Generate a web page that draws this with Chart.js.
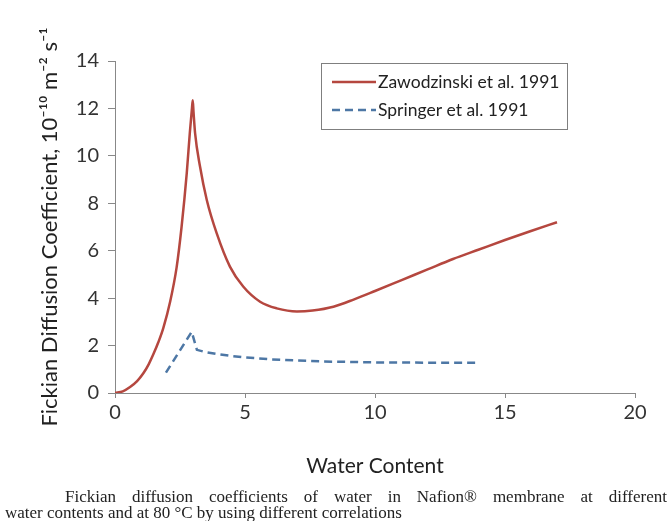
<!DOCTYPE html>
<html>
<head>
<meta charset="utf-8">
<script src="https://cdn.jsdelivr.net/npm/chart.js@4.4.1/dist/chart.umd.min.js"></script>
<style>
  body { margin: 0; background: #fff; }
  #wrap { position: relative; width: 671px; height: 521px; }
  #chart { position: absolute; left: 0; top: 0; }
  .caption {
    position: absolute; left: 5px; width: 662px;
    font-family: "Liberation Serif", "DejaVu Serif", serif;
    font-size: 17px; line-height: 16px; color: #222;
    white-space: nowrap;
  }
  .caption.first { top: 489px; padding-left: 60px; width: 602px; text-align: justify; text-align-last: justify; }
  .caption.second { top: 505px; }
</style>
</head>
<body>
<div id="wrap">
  <canvas id="chart" width="671" height="490"></canvas>
  <div class="caption first">Fickian diffusion coefficients of water in Nafion® membrane at different</div>
  <div class="caption second">water contents and at 80 °C by using different correlations</div>
</div>
<script>
// water content (lambda) vs diffusion coefficient, 1e-10 m2/s
const zawX = [0, 0.3, 0.58, 0.85, 1.09, 1.3, 1.47, 1.67, 1.86, 2.12, 2.37, 2.56, 2.76, 2.88, 2.96, 2.99, 3.02,
  3.08, 3.27, 3.53, 3.91, 4.42, 4.93, 5.58, 6.22, 7.0, 7.6, 8.4, 9.2, 10, 11, 12, 13, 14, 15, 16, 17];
const zawY = [0, 0.07, 0.25, 0.5, 0.83, 1.22, 1.62, 2.15, 2.75, 3.85, 5.3, 7.0, 9.27, 11.0, 12.0, 12.35, 11.85,
  10.96, 9.55, 8.14, 6.74, 5.33, 4.49, 3.85, 3.57, 3.44, 3.48, 3.64, 3.95, 4.3, 4.75, 5.2, 5.65, 6.05, 6.45, 6.83, 7.2];

const sprX = [1.96, 2.95, 3.15, 3.5, 4, 4.5, 5, 6, 7, 8, 9, 10, 12, 14];
const sprY = [0.86, 2.58, 1.82, 1.72, 1.63, 1.56, 1.5, 1.42, 1.37, 1.33, 1.31, 1.29, 1.28, 1.28];

const xTicks = [0, 5, 10, 15, 20];
const yTicks = [0, 2, 4, 6, 8, 10, 12, 14];

const seriesNames = ['Zawodzinski et al. 1991', 'Springer et al. 1991'];

const toPoints = (xs, ys) => xs.map((x, i) => ({ x, y: ys[i] }));

// boxed legend sitting inside the plot, top right
const boxLegend = {
  id: 'boxLegend',
  afterDraw(chart) {
    const ctx = chart.ctx;
    const x = 321, y = 63, w = 246, h = 66;
    ctx.save();
    ctx.strokeStyle = '#7f7f7f';
    ctx.lineWidth = 1;
    ctx.strokeRect(x + 0.5, y + 0.5, w, h);
    chart.data.datasets.forEach((ds, i) => {
      const ly = y + 19 + i * 28;
      ctx.beginPath();
      ctx.strokeStyle = ds.borderColor;
      ctx.lineWidth = ds.borderWidth;
      ctx.setLineDash(ds.borderDash || []);
      ctx.moveTo(x + 11, ly);
      ctx.lineTo(x + 55, ly);
      ctx.stroke();
      ctx.setLineDash([]);
      ctx.fillStyle = '#222';
      ctx.font = '17.5px Lato';
      ctx.textBaseline = 'middle';
      ctx.fillText(ds.label, x + 57, ly);
    });
    ctx.restore();
  }
};

const tickFont = { family: 'Lato', size: 20 };

new Chart(document.getElementById('chart'), {
  type: 'line',
  data: {
    datasets: [
      {
        label: seriesNames[0],
        data: toPoints(zawX, zawY),
        borderColor: '#b5473f',
        borderWidth: 2.5,
        pointRadius: 0,
        cubicInterpolationMode: 'monotone',
        fill: false
      },
      {
        label: seriesNames[1],
        data: toPoints(sprX, sprY),
        borderColor: '#4d77a5',
        borderWidth: 2.5,
        borderDash: [8, 5],
        pointRadius: 0,
        tension: 0,
        fill: false
      }
    ]
  },
  options: {
    responsive: false,
    animation: false,
    layout: { padding: { left: 0, top: 61, right: 36, bottom: 0 } },
    plugins: {
      legend: { display: false },
      tooltip: { enabled: false }
    },
    scales: {
      x: {
        type: 'linear',
        min: 0,
        max: 20,
        afterBuildTicks: s => { s.ticks = xTicks.map(v => ({ value: v })); },
        afterFit: s => { s.height = 97; },
        ticks: { font: tickFont, color: '#333', padding: 3 },
        grid: { drawOnChartArea: false, tickLength: 5, color: '#888' },
        border: { color: '#888' },
        title: {
          display: true,
          text: 'Water Content',
          font: { family: 'Lato', size: 21 },
          color: '#222',
          padding: { top: 0, bottom: 11 }
        }
      },
      y: {
        min: 0,
        max: 14,
        afterBuildTicks: s => { s.ticks = yTicks.map(v => ({ value: v })); },
        afterFit: s => { s.width = 115; },
        ticks: { font: tickFont, color: '#333', padding: 9 },
        grid: { drawOnChartArea: false, tickLength: 7, color: '#888' },
        border: { color: '#888' },
        title: {
          display: true,
          text: 'Fickian Diffusion Coefficient, 10⁻¹⁰ m⁻² s⁻¹',
          font: { family: 'Lato', size: 22 },
          color: '#222',
          padding: { top: 37, bottom: 0 }
        }
      }
    }
  },
  plugins: [boxLegend]
});
</script>
</body>
</html>
